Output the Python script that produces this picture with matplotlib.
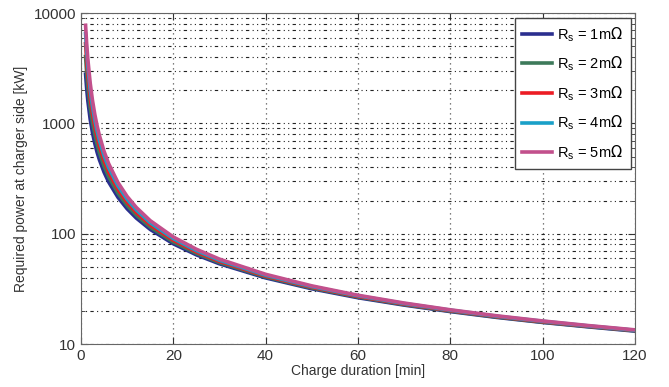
import matplotlib
matplotlib.use("Agg")
import matplotlib.pyplot as plt
from matplotlib.ticker import FixedLocator, FixedFormatter, LogLocator, NullFormatter

plt.rcParams['font.family'] = ['Liberation Sans', 'DejaVu Sans']

# charge duration [min]
t = [1, 1.25, 1.5, 2, 2.5, 3, 3.5, 4, 5, 6, 8, 10, 12, 15, 20, 25, 30,
     40, 50, 60, 70, 80, 90, 100, 110, 120]

# required power [kW]
p_rs1 = [2801, 2042, 1592, 1090, 823, 658, 547, 468, 362, 294.5, 214.4, 168.4,
         138.6, 109.5, 81.1, 64.4, 53.4, 39.8, 31.7, 26.3, 22.55, 19.7, 17.45,
         15.7, 14.3, 13.1]
p_rs2 = [4042, 2836, 2143, 1401, 1021, 796, 648, 545, 411, 329, 233.8, 180.8,
         147.2, 115, 84.2, 66.4, 54.8, 40.6, 32.2, 26.7, 22.8, 19.9, 17.6,
         15.8, 14.4, 13.2]
p_rs3 = [5283, 3630, 2695, 1711, 1220, 934, 750, 623, 461, 363.5, 253.2, 193.2,
         155.8, 120.5, 87.3, 68.4, 56.1, 41.3, 32.7, 27.0, 23.05, 20.1, 17.75,
         15.95, 14.5, 13.3]
p_rs4 = [6524, 4424, 3246, 2021, 1418, 1072, 851, 700, 510, 398, 272.6, 205.6,
         164.4, 126, 90.4, 70.4, 57.5, 42.1, 33.2, 27.4, 23.3, 20.3, 17.9,
         16.1, 14.6, 13.35]
p_rs5 = [7765, 5218, 3798, 2332, 1617, 1210, 952, 778, 560, 432.5, 292, 218,
         173, 131.5, 93.5, 72.4, 58.9, 42.9, 33.7, 27.7, 23.55, 20.45, 18.05,
         16.2, 14.7, 13.45]

labels = [r'R$_\mathregular{s}$ = 1m$\Omega$', r'R$_\mathregular{s}$ = 2m$\Omega$',
          r'R$_\mathregular{s}$ = 3m$\Omega$', r'R$_\mathregular{s}$ = 4m$\Omega$',
          r'R$_\mathregular{s}$ = 5m$\Omega$']
colors = ['#2b2f8f', '#3d7a5a', '#ec1c24', '#1aa0c8', '#c2508c']

fig = plt.figure(figsize=(6.69, 3.87), dpi=100)
ax = fig.add_axes([0.121, 0.111, 0.828, 0.855])

for p, lab, c in zip([p_rs1, p_rs2, p_rs3, p_rs4, p_rs5], labels, colors):
    ax.plot(t, p, color=c, lw=2.6, label=lab)

ax.set_yscale('log')
ax.set_xlim(0, 120)
ax.set_ylim(10, 10000)
ax.set_xticks([0, 20, 40, 60, 80, 100, 120])
ax.yaxis.set_major_locator(FixedLocator([10, 100, 1000, 10000]))
ax.yaxis.set_major_formatter(FixedFormatter(['10', '100', '1000', '10000']))
ax.yaxis.set_minor_locator(LogLocator(base=10, subs=range(2, 10)))
ax.yaxis.set_minor_formatter(NullFormatter())

# matlab-ish sparse dotted grid
gstyle = (0, (1, 3, 1, 3, 3, 3))
ax.grid(True, which='major', axis='y', ls=gstyle, color='#222222', lw=0.8)
ax.grid(True, which='minor', axis='y', ls=gstyle, color='#222222', lw=0.8)
ax.grid(True, which='major', axis='x', ls=(0, (1, 3)), color='#555555', lw=0.9)

ax.tick_params(direction='in', which='both', labelsize=11, colors='#333333',
               top=True, right=True)
ax.tick_params(which='major', length=5)
ax.tick_params(which='minor', length=3)
for s in ax.spines.values():
    s.set_color('#666666')

ax.set_xlabel('Charge duration [min]', fontsize=10, color='#333333', labelpad=1)
ax.set_ylabel('Required power at charger side [kW]', fontsize=10, color='#333333')

leg = ax.legend(loc='upper right', fontsize=10.5, fancybox=False, framealpha=1,
                edgecolor='#444444', borderaxespad=0.3, handlelength=2.0,
                handletextpad=0.4, labelspacing=0.75, borderpad=0.5)
leg.get_frame().set_linewidth(1.0)

fig.savefig('out.png', dpi=100)
